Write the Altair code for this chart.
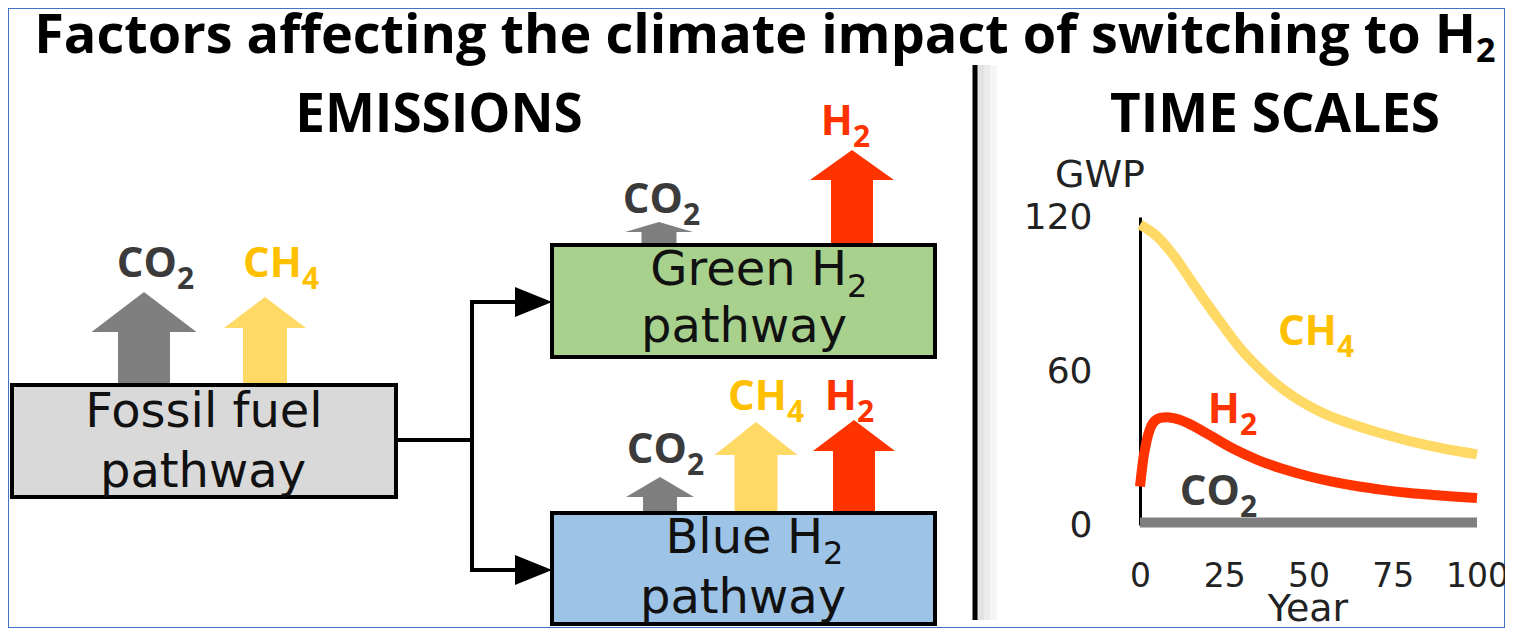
import altair as alt
import pandas as pd

# ---------------- right panel: GWP curves ----------------
ch4_year = [0, 5, 10, 15, 20, 25, 30, 35, 40, 45, 50, 55, 60, 70, 80, 90, 100]
ch4_gwp = [117, 112.5, 105, 95.5, 86, 77, 68.5, 61.5, 55.5, 50.5, 46.5, 43.2, 40.6, 36.3, 32.7, 29.8, 27.5]
h2_year = [0, 1, 2, 3, 4, 6, 8, 10, 14, 20, 28, 35, 42, 50, 57, 65, 72, 80, 87, 94, 100]
h2_gwp = [15, 26, 33, 37.5, 40, 41.7, 42, 41.6, 39.8, 35.5, 29.5, 25.3, 22, 19, 16.9, 15, 13.7, 12.5, 11.7, 11, 10.5]
co2_year = [0, 100]
co2_gwp = [1, 1]
gwp_ticks = [0, 60, 120]
year_ticks = [0, 25, 50, 75, 100]

gas_domain = ["CO2", "CH4", "H2"]
arrow_palette = ["#7f7f7f", "#ffd966", "#ff3300"]
text_palette = ["#3b3b3b", "#ffc000", "#ff3300"]

# ---------------- left panel: pathway boxes ----------------
box_name = ["Fossil fuel", "Green H2", "Blue H2"]
box_palette = ["#d9d9d9", "#a9d18e", "#9dc3e6"]
box_left = [12, 552, 552]
box_right = [396, 935, 935]
box_top = [385, 245, 513]
box_bottom = [497, 357, 624]

# emission arrows leaving the boxes
arrow_gas = ["CO2", "CH4", "CO2", "H2", "CO2", "CH4", "H2"]
arrow_center = [144, 265, 659, 852, 660, 756, 854]
arrow_shaft = [52, 44, 35, 42, 34, 43, 42]
arrow_head = [105, 82, 68, 84, 68, 83, 82]
arrow_foot = [385, 385, 245, 245, 513, 513, 513]
arrow_neck = [332, 328, 232, 180, 497, 455, 451]
arrow_tip = [292, 297, 222, 150, 477, 422, 420]

# connector lines between boxes
link_x0 = [395, 472, 472, 472]
link_x1 = [472, 472, 520, 520]
link_y0 = [440, 302, 302, 570]
link_y1 = [440, 570, 302, 570]
pointer_tip = [552, 552]
pointer_base = [515, 515]
pointer_mid = [302, 570]
pointer_half = 15

# divider between the panels
divider_x = [975]
divider_top = [65]
divider_bottom = [620]
shade_level = ["a", "b", "c"]
shade_x0 = [977, 984, 990]
shade_x1 = [984, 990, 997]

# texts
title_main = ["Factors affecting the climate impact of switching to H"]
title_sub = ["2"]
title_x = [1476]
title_y = [53]
title_sub_y = [62]

heading_text = ["EMISSIONS", "TIME SCALES"]
heading_x = [439, 1275]
heading_y = [132, 132]

box_center_text = ["Fossil fuel", "pathway", "pathway", "pathway"]
box_center_x = [204, 203, 744, 743]
box_center_y = [427, 487, 342, 613]
box_split_text = ["Green H", "Blue H"]
box_split_x = [847, 823]
box_split_y = [285, 553]
box_split_sub_y = [297, 564]

chem_main = ["CO", "CH", "CO", "H", "CO", "CH", "H", "CH", "H", "CO"]
chem_sub = ["2", "4", "2", "2", "2", "4", "2", "4", "2", "2"]
chem_gas = ["CO2", "CH4", "CO2", "H2", "CO2", "CH4", "H2", "CH4", "H2", "CO2"]
chem_x = [177, 302, 683, 853, 687, 787, 857, 1337, 1240, 1240]
chem_y = [277, 277, 213, 135, 463, 410, 410, 345, 423, 505]

axis_label_text = ["GWP", "Year"]
axis_label_x = [1100, 1308]
axis_label_y = [187, 621]

# ---------------- tables ----------------
gwp_df = pd.concat([
    pd.DataFrame({"gas": "CH4", "year": ch4_year, "gwp": ch4_gwp}),
    pd.DataFrame({"gas": "H2", "year": h2_year, "gwp": h2_gwp}),
    pd.DataFrame({"gas": "CO2", "year": co2_year, "gwp": co2_gwp}),
], ignore_index=True)

boxes_df = pd.DataFrame({"name": box_name, "x0": box_left, "x1": box_right,
                         "y0": box_top, "y1": box_bottom})
shaft_df = pd.DataFrame({
    "gas": arrow_gas,
    "x0": [c - w / 2 for c, w in zip(arrow_center, arrow_shaft)],
    "x1": [c + w / 2 for c, w in zip(arrow_center, arrow_shaft)],
    "y0": arrow_neck, "y1": arrow_foot,
})
head_rows = []
for i, (g, c, hw, nk, tp) in enumerate(zip(arrow_gas, arrow_center, arrow_head, arrow_neck, arrow_tip)):
    head_rows += [
        {"id": i, "gas": g, "x": c - hw / 2, "y": nk, "y2": nk},
        {"id": i, "gas": g, "x": c, "y": tp, "y2": nk},
        {"id": i, "gas": g, "x": c + hw / 2, "y": nk, "y2": nk},
    ]
head_df = pd.DataFrame(head_rows)
links_df = pd.DataFrame({"x0": link_x0, "x1": link_x1, "y0": link_y0, "y1": link_y1})
ptr_rows = []
for i, (t, b, m) in enumerate(zip(pointer_tip, pointer_base, pointer_mid)):
    ptr_rows += [
        {"id": i, "y": m - pointer_half, "x": b, "x2": b},
        {"id": i, "y": m, "x": t, "x2": b},
        {"id": i, "y": m + pointer_half, "x": b, "x2": b},
    ]
ptr_df = pd.DataFrame(ptr_rows)
divider_df = pd.DataFrame({"x": divider_x, "y0": divider_top, "y1": divider_bottom})
shade_df = pd.DataFrame({"lvl": shade_level, "x0": shade_x0, "x1": shade_x1,
                         "y0": divider_top * 3, "y1": divider_bottom * 3})
chem_df = pd.DataFrame({"main": chem_main, "sub": chem_sub, "gas": chem_gas,
                        "x": chem_x, "y": chem_y, "ysub": [v + 12 for v in chem_y]})

# ---------------- scales ----------------
W, H = 1497, 620
PX = alt.Scale(domain=[8, 1505], nice=False, zero=False)
PY = alt.Scale(domain=[8, 628], nice=False, zero=False, reverse=True)


def X(f):
    return alt.X(f"{f}:Q", scale=PX, axis=None)


def Y(f):
    return alt.Y(f"{f}:Q", scale=PY, axis=None)


gas_arrow_color = alt.Color("gas:N", scale=alt.Scale(domain=gas_domain, range=arrow_palette), legend=None)
gas_text_color = alt.Color("gas:N", scale=alt.Scale(domain=gas_domain, range=text_palette), legend=None)

shade = alt.Chart(shade_df).mark_rect(opacity=1).encode(
    x=X("x0"), x2="x1", y=Y("y0"), y2="y1",
    color=alt.Color("lvl:N", scale=alt.Scale(domain=shade_level, range=["#e2e2e2", "#ebebeb", "#f5f5f5"]), legend=None))
divider = alt.Chart(divider_df).mark_rule(color="black", strokeWidth=5).encode(
    x=X("x"), y=Y("y0"), y2="y1")
links = alt.Chart(links_df).mark_rule(color="black", strokeWidth=4, strokeCap="square").encode(
    x=X("x0"), x2="x1", y=Y("y0"), y2="y1")
pointers = alt.Chart(ptr_df).mark_area(orient="horizontal", color="black", opacity=1).encode(
    y=Y("y"), x=X("x"), x2="x2", detail="id:N")
shafts = alt.Chart(shaft_df).mark_rect(opacity=1).encode(
    x=X("x0"), x2="x1", y=Y("y0"), y2="y1", color=gas_arrow_color)
heads = alt.Chart(head_df).mark_area(opacity=1).encode(
    x=X("x"), y=Y("y"), y2="y2", detail="id:N", color=gas_arrow_color)
boxes = alt.Chart(boxes_df).mark_rect(stroke="black", strokeWidth=4, opacity=1).encode(
    x=X("x0"), x2="x1", y=Y("y0"), y2="y1",
    color=alt.Color("name:N", scale=alt.Scale(domain=box_name, range=box_palette), legend=None))

box_font = "DejaVu Sans"
box_txt_c = alt.Chart(pd.DataFrame({"t": box_center_text, "x": box_center_x, "y": box_center_y})).mark_text(
    font=box_font, fontSize=48, align="center", baseline="alphabetic", color="#111").encode(
    x=X("x"), y=Y("y"), text="t:N")
box_txt_r = alt.Chart(pd.DataFrame({"t": box_split_text, "x": box_split_x, "y": box_split_y})).mark_text(
    font=box_font, fontSize=48, align="right", baseline="alphabetic", color="#111").encode(
    x=X("x"), y=Y("y"), text="t:N")
box_txt_s = alt.Chart(pd.DataFrame({"t": ["2", "2"], "x": box_split_x, "y": box_split_sub_y})).mark_text(
    font=box_font, fontSize=32, align="left", baseline="alphabetic", color="#111").encode(
    x=X("x"), y=Y("y"), text="t:N")

chem_m = alt.Chart(chem_df).mark_text(font="Open Sans", fontWeight="bold", fontSize=42,
                                      align="right", baseline="alphabetic").encode(
    x=X("x"), y=Y("y"), text="main:N", color=gas_text_color)
chem_s = alt.Chart(chem_df).mark_text(font="Open Sans", fontWeight="bold", fontSize=30,
                                      align="left", baseline="alphabetic").encode(
    x=X("x"), y=Y("ysub"), text="sub:N", color=gas_text_color)

title_m = alt.Chart(pd.DataFrame({"t": title_main, "x": title_x, "y": title_y})).mark_text(
    font="Open Sans", fontWeight="bold", fontSize=54, align="right", baseline="alphabetic", color="black").encode(
    x=X("x"), y=Y("y"), text="t:N")
title_s = alt.Chart(pd.DataFrame({"t": title_sub, "x": title_x, "y": title_sub_y})).mark_text(
    font="Open Sans", fontWeight="bold", fontSize=34, align="left", baseline="alphabetic", color="black").encode(
    x=X("x"), y=Y("y"), text="t:N")
headings = alt.Chart(pd.DataFrame({"t": heading_text, "x": heading_x, "y": heading_y})).mark_text(
    font="Open Sans", fontWeight="bold", fontSize=53, align="center", baseline="alphabetic", color="black").encode(
    x=X("x"), y=Y("y"), text="t:N")
axis_titles = alt.Chart(pd.DataFrame({"t": axis_label_text, "x": axis_label_x, "y": axis_label_y})).mark_text(
    font=box_font, fontSize=38, align="center", baseline="alphabetic", color="#222").encode(
    x=X("x"), y=Y("y"), text="t:N")

diagram = alt.layer(
    shade, divider, links, pointers, shafts, heads, boxes,
    box_txt_c, box_txt_r, box_txt_s, chem_m, chem_s,
    title_m, title_s, headings, axis_titles,
).resolve_scale(color="independent")

curves = alt.Chart(gwp_df).mark_line(strokeWidth=10, interpolate="monotone", strokeCap="butt").encode(
    x=alt.X("year:Q",
            scale=alt.Scale(domain=[0, 100], range=[1132, 1469], nice=False, zero=False),
            axis=alt.Axis(orient="bottom", offset=-103, values=year_ticks, domain=False, ticks=False,
                          grid=False, labelPadding=35, labelFont=box_font, labelFontSize=33,
                          labelColor="#222", labelFlush=False, labelOverlap=False, title=None)),
    y=alt.Y("gwp:Q",
            scale=alt.Scale(domain=[0, 120], range=[517, 209], nice=False, zero=False),
            axis=alt.Axis(orient="left", offset=-1132, values=gwp_ticks, domain=True, domainColor="black",
                          domainWidth=3, ticks=False, grid=False, labelPadding=48, labelFont=box_font,
                          labelFontSize=36, labelColor="#222", labelFlush=False, labelOverlap=False,
                          title=None)),
    color=gas_arrow_color,
    detail="gas:N",
)

chart = alt.layer(diagram, curves).resolve_scale(
    x="independent", y="independent", color="independent"
).properties(
    width=W, height=H, autosize="none", padding=0
).configure_view(stroke="#4472c4", strokeWidth=2)

chart.save("out.html", embed_options={"renderer": "svg", "actions": False})
